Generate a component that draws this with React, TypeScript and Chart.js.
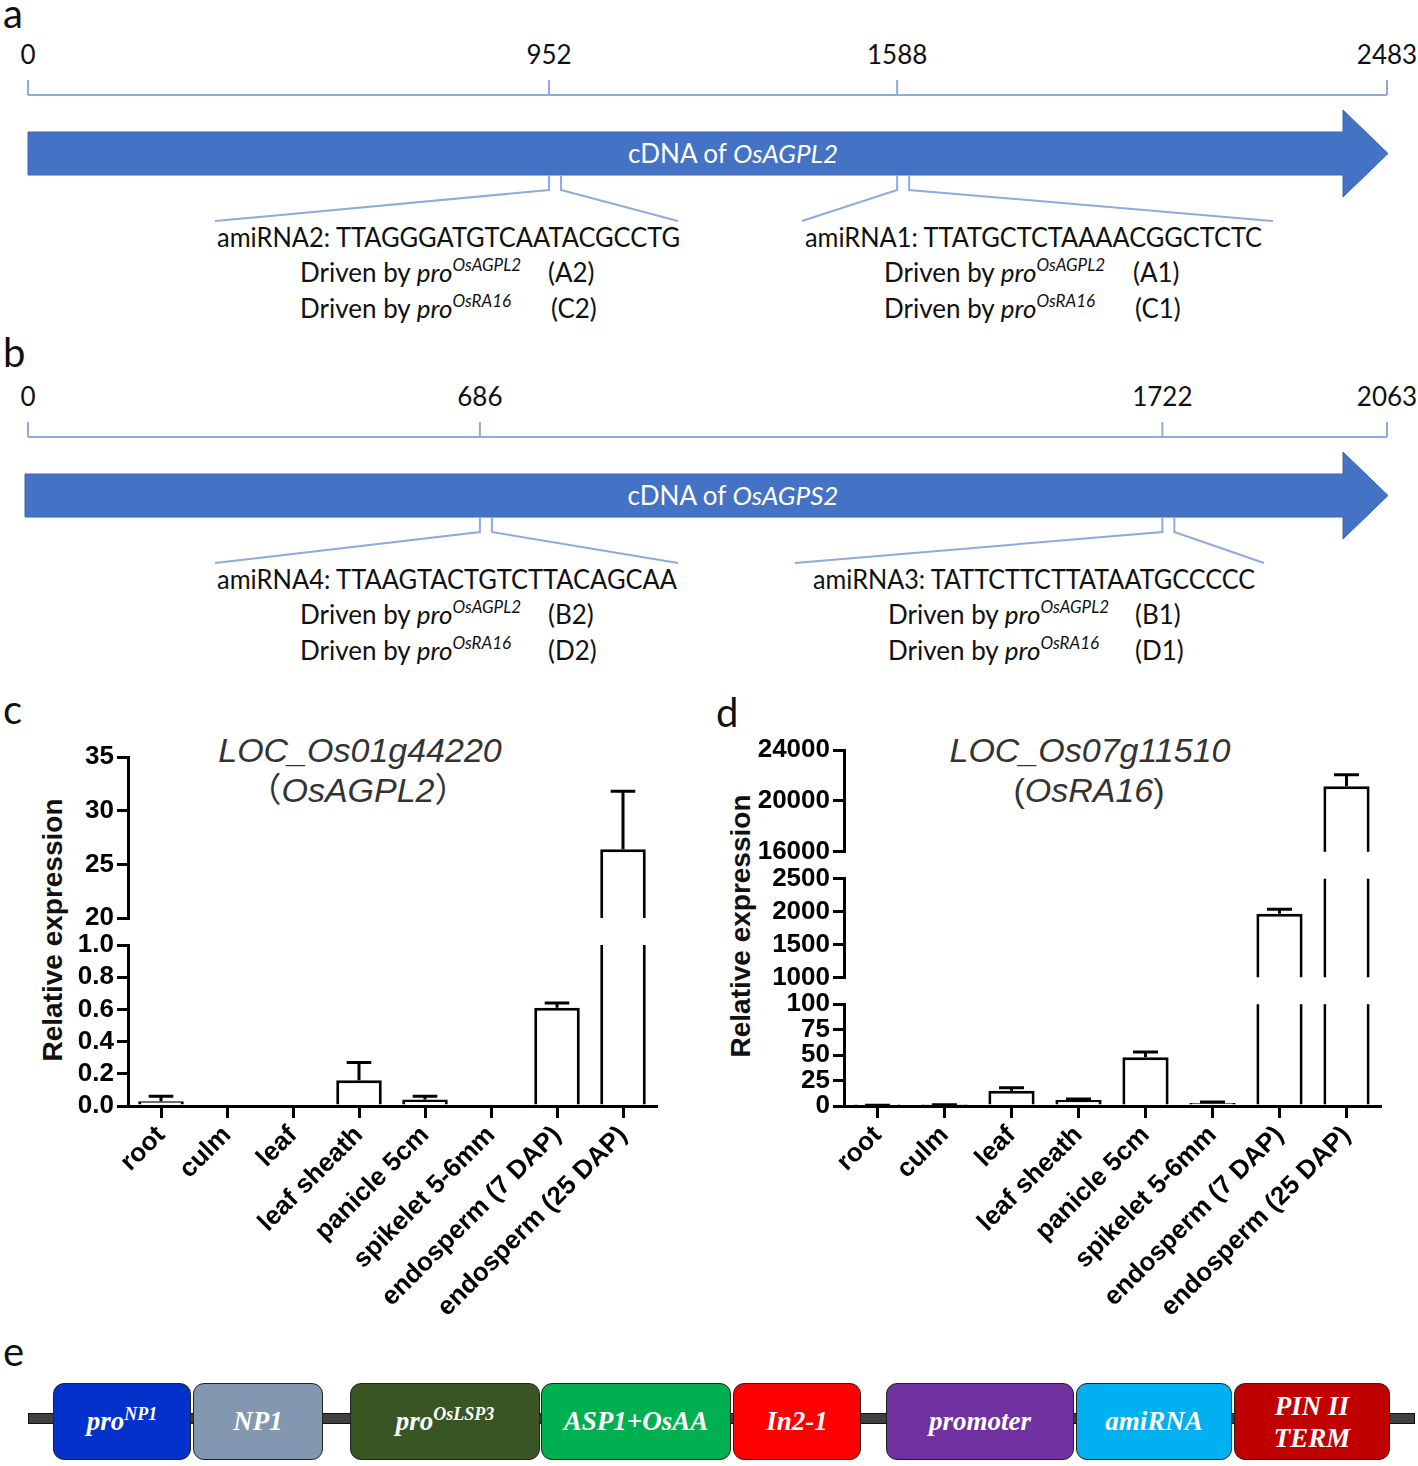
import React, { useEffect, useRef } from "react";
import { Chart, registerables } from "chart.js";

Chart.register(...registerables);

// ---------------- DATA ----------------
// panel a / b : cDNA rulers
const agpl2Length = 2483;
const agpl2Ticks = [0, 952, 1588, 2483];
const agpl2Sites = [952, 1588];
const agps2Length = 2063;
const agps2Ticks = [0, 686, 1722, 2063];
const agps2Sites = [686, 1722];

const agpl2Amirnas = ["amiRNA2: TTAGGGATGTCAATACGCCTG", "amiRNA1: TTATGCTCTAAAACGGCTCTC"];
const agpl2Tags = [["(A2)", "(C2)"], ["(A1)", "(C1)"]];
const agps2Amirnas = ["amiRNA4: TTAAGTACTGTCTTACAGCAA", "amiRNA3: TATTCTTCTTATAATGCCCCC"];
const agps2Tags = [["(B2)", "(D2)"], ["(B1)", "(D1)"]];
const promoterNames = ["OsAGPL2", "OsRA16"];

// panel c / d : relative expression
const tissues = [
  "root",
  "culm",
  "leaf",
  "leaf sheath",
  "panicle 5cm",
  "spikelet 5-6mm",
  "endosperm (7 DAP)",
  "endosperm (25 DAP)",
];
const agpl2Mean = [0.03, 0, 0, 0.16, 0.04, 0, 0.61, 26.4];
const agpl2Err = [0.03, 0, 0, 0.11, 0.02, 0, 0.03, 5.4];
const agpl2SegMin = [20, 0];
const agpl2SegMax = [35, 1];
const agpl2SegStep = [5, 0.2];
const agpl2SegDecimals = [0, 1];

const ra16Mean = [0.4, 1, 15, 6, 48, 3, 1965, 21150];
const ra16Err = [0.3, 0.3, 3, 1, 5, 1, 70, 900];
const ra16SegMin = [16000, 1000, 0];
const ra16SegMax = [24000, 2500, 100];
const ra16SegStep = [4000, 500, 25];
const ra16SegDecimals = [0, 0, 0];

// panel e : construct
const constructParts = ["pro|NP1", "NP1", "pro|OsLSP3", "ASP1+OsAA", "In2-1", "promoter", "amiRNA", "PIN II/TERM"];
const constructColors = ["#0331C9", "#8497B0", "#3A5524", "#00B050", "#FF0000", "#7030A0", "#00B0F0", "#C00000"];

// ---------------- LAYOUT ----------------
const LATO = "Lato, 'Open Sans', sans-serif";
const ARIAL = "'Liberation Sans', Arial, sans-serif";
const TIMES = "'Liberation Serif', 'Times New Roman', serif";
const RULER_BLUE = "#8FAADC";
const ARROW_BLUE = "#4472C4";

const errorBarPlugin = {
  id: "errorBars",
  afterDatasetsDraw(chart: any, _args: any, opts: any) {
    const { means, errs, ids } = opts;
    const meta = chart.getDatasetMeta(0);
    const ctx = chart.ctx;
    ctx.save();
    ctx.strokeStyle = "#000";
    ctx.lineWidth = 3;
    means.forEach((m: number, i: number) => {
      const e = errs[i];
      if (!e) return;
      const id = ids.find((k: string) => {
        const s = chart.scales[k];
        return m >= s.min && m <= s.max;
      });
      if (!id) return;
      const sc = chart.scales[id];
      const el: any = meta.data[i];
      const x = el.x;
      const w = el.width;
      const y0 = sc.getPixelForValue(m);
      const y1 = sc.getPixelForValue(m + e);
      ctx.beginPath();
      ctx.moveTo(x, y0);
      ctx.lineTo(x, y1);
      ctx.moveTo(x - w * 0.27, y1);
      ctx.lineTo(x + w * 0.27, y1);
      ctx.stroke();
    });
    ctx.restore();
  },
};

type BrokenProps = {
  left: number;
  top: number;
  width: number;
  height: number;
  area: { left: number; right: number; top: number; bottom: number };
  yAxisWidth: number;
  means: number[];
  errs: number[];
  segMin: number[];
  segMax: number[];
  segStep: number[];
  segDecimals: number[];
  segHeights: number[];
  gapHeight: number;
};

function BrokenBarChart(p: BrokenProps) {
  const ref = useRef<HTMLCanvasElement>(null);
  useEffect(() => {
    if (!ref.current) return;
    const tickFont = { family: ARIAL, size: 26, weight: "bold" as const };
    const scales: any = {
      x: {
        type: "category",
        position: "bottom",
        offset: true,
        grid: {
          display: true,
          drawOnChartArea: false,
          offset: false,
          color: "#000",
          lineWidth: 3,
          tickLength: 12,
        },
        border: { display: true, color: "#000", width: 3 },
        ticks: {
          font: tickFont,
          color: "#000",
          minRotation: 45,
          maxRotation: 45,
          autoSkip: false,
          padding: 2,
        },
        afterFit: (s: any) => {
          s.height = p.height - p.area.bottom;
        },
      },
    };
    const ids: string[] = [];
    const datasets: any[] = [];
    const n = p.segMin.length;
    for (let i = 0; i < n; i++) {
      const id = "y" + i;
      ids.push(id);
      const dec = p.segDecimals[i];
      scales[id] = {
        type: "linear",
        position: "left",
        stack: "broken",
        stackWeight: p.segHeights[i],
        weight: 100 - 2 * i,
        min: p.segMin[i],
        max: p.segMax[i],
        offset: false,
        ticks: {
          stepSize: p.segStep[i],
          font: tickFont,
          color: "#000",
          padding: 3,
          autoSkip: false,
          callback: (v: any) => Number(v).toFixed(dec),
        },
        grid: {
          display: true,
          drawOnChartArea: false,
          drawTicks: true,
          tickLength: 11,
          color: "#000",
          lineWidth: 3,
        },
        border: { display: true, color: "#000", width: 3 },
        afterFit: (s: any) => {
          s.width = p.yAxisWidth;
        },
      };
      if (i < n - 1) {
        scales["gap" + i] = {
          type: "linear",
          position: "left",
          stack: "broken",
          stackWeight: p.gapHeight,
          weight: 100 - 2 * i - 1,
          min: 0,
          max: 1,
          display: true,
          grid: { display: false },
          border: { display: false },
          ticks: { display: false },
          afterFit: (s: any) => {
            s.width = p.yAxisWidth;
          },
        };
      }
      datasets.push({
        data: p.means,
        xAxisID: "x",
        yAxisID: id,
        backgroundColor: "#fff",
        borderColor: "#000",
        borderWidth: 3,
        borderSkipped: "start",
        barPercentage: 0.69,
        categoryPercentage: 1,
        grouped: false,
        clip: 0,
      });
    }
    const chart = new Chart(ref.current, {
      type: "bar",
      data: { labels: tissues, datasets },
      options: {
        responsive: false,
        animation: false,
        devicePixelRatio: 1,
        layout: {
          padding: {
            left: p.area.left - p.yAxisWidth,
            right: p.width - p.area.right,
            top: p.area.top,
            bottom: 0,
          },
        },
        plugins: {
          legend: { display: false },
          tooltip: { enabled: false },
          title: { display: false },
          errorBars: { means: p.means, errs: p.errs, ids },
        } as any,
        scales,
      },
      plugins: [errorBarPlugin],
    });
    return () => chart.destroy();
  }, []);
  return (
    <canvas
      ref={ref}
      width={p.width}
      height={p.height}
      style={{ position: "absolute", left: p.left, top: p.top, width: p.width, height: p.height }}
    />
  );
}

function xOf(bp: number, len: number) {
  return 28 + (bp / len) * 1359;
}

function DrivenLine(props: { x: number; y: number; sup: string; tag: string; tagX: number }) {
  return (
    <g>
      <text x={props.x} y={props.y} fontSize={26} fontFamily={LATO} fill="#111">
        <tspan>Driven by </tspan>
        <tspan fontStyle="italic">pro</tspan>
        <tspan fontStyle="italic" fontSize={17} dy={-11}>
          {props.sup}
        </tspan>
      </text>
      <text x={props.tagX} y={props.y} fontSize={26} fontFamily={LATO} fill="#111">
        {props.tag}
      </text>
    </g>
  );
}

type GeneDiagramProps = {
  y0: number; // panel offset
  len: number;
  ticks: number[];
  sites: number[];
  gene: string;
  amirnas: string[];
  tags: string[][];
  bodyLeft: number;
  textSpans: number[][]; // [start,end] of amiRNA line
  drivenX: number[];
  tagX: number[][];
  fanEnds: number[][];
};

function GeneDiagram(g: GeneDiagramProps) {
  const rulerY = g.y0 + 95;
  const bodyTop = g.y0 + 132;
  const bodyBot = g.y0 + 175;
  const headTop = g.y0 + 110;
  const headBot = g.y0 + 197;
  const mid = (bodyTop + bodyBot) / 2;
  const fanTopY = bodyBot + 15;
  const fanBotY = g.y0 + 221;
  return (
    <g>
      <line x1={28} y1={rulerY} x2={1387} y2={rulerY} stroke={RULER_BLUE} strokeWidth={2} />
      {g.ticks.map((t, i) => {
        const x = xOf(t, g.len);
        return (
          <g key={i}>
            <line x1={x} y1={rulerY - 15} x2={x} y2={rulerY} stroke={RULER_BLUE} strokeWidth={2} />
            <text x={x} y={g.y0 + 64} fontSize={26} fontFamily={LATO} textAnchor="middle" fill="#111">
              {t}
            </text>
          </g>
        );
      })}
      <polygon
        points={`${g.bodyLeft},${bodyTop} 1343,${bodyTop} 1343,${headTop} 1388,${mid} 1343,${headBot} 1343,${bodyBot} ${g.bodyLeft},${bodyBot}`}
        fill={ARROW_BLUE}
        stroke="#3B64B0"
        strokeWidth={1}
      />
      <text x={733} y={mid + 9} fontSize={26} fontFamily={LATO} textAnchor="middle" fill="#fff">
        <tspan>cDNA of </tspan>
        <tspan fontStyle="italic">{g.gene}</tspan>
      </text>
      {g.sites.map((s, i) => {
        const xa = xOf(s, g.len);
        const xb = xa + 12;
        return (
          <g key={i}>
            <polyline
              points={`${xa},${bodyBot} ${xa},${fanTopY} ${g.fanEnds[i][0]},${fanBotY}`}
              fill="none"
              stroke={RULER_BLUE}
              strokeWidth={2}
            />
            <polyline
              points={`${xb},${bodyBot} ${xb},${fanTopY} ${g.fanEnds[i][1]},${fanBotY}`}
              fill="none"
              stroke={RULER_BLUE}
              strokeWidth={2}
            />
            <text
              x={g.textSpans[i][0]}
              y={g.y0 + 247}
              fontSize={26}
              fontFamily={LATO}
              fill="#111"
              textLength={g.textSpans[i][1] - g.textSpans[i][0]}
              lengthAdjust="spacingAndGlyphs"
            >
              {g.amirnas[i]}
            </text>
            <DrivenLine x={g.drivenX[i]} y={g.y0 + 282} sup={promoterNames[0]} tag={g.tags[i][0]} tagX={g.tagX[i][0]} />
            <DrivenLine x={g.drivenX[i]} y={g.y0 + 318} sup={promoterNames[1]} tag={g.tags[i][1]} tagX={g.tagX[i][1]} />
          </g>
        );
      })}
    </g>
  );
}

const boxX = [
  [53, 191],
  [193, 323],
  [350, 540],
  [541, 731],
  [733, 861],
  [886, 1074],
  [1076, 1232],
  [1234, 1390],
];

function Construct() {
  return (
    <div style={{ position: "absolute", left: 0, top: 0 }}>
      <div
        style={{
          position: "absolute",
          left: 28,
          top: 1413,
          width: 1385,
          height: 9,
          background: "#404040",
          border: "1px solid #111",
        }}
      />
      {constructParts.map((name, i) => {
        const [x0, x1] = boxX[i];
        let content: any = name;
        if (name.includes("|")) {
          const [a, b] = name.split("|");
          content = (
            <span>
              {a}
              <sup style={{ fontSize: 18, verticalAlign: "0.55em", lineHeight: 0 }}>{b}</sup>
            </span>
          );
        } else if (name.includes("/")) {
          const [a, b] = name.split("/");
          content = (
            <span style={{ lineHeight: "32px" }}>
              {a}
              <br />
              {b}
            </span>
          );
        }
        return (
          <div
            key={i}
            style={{
              position: "absolute",
              left: x0,
              top: 1383,
              width: x1 - x0,
              height: 77,
              boxSizing: "border-box",
              background: constructColors[i],
              border: "1.5px solid #222",
              borderRadius: 11,
              display: "flex",
              alignItems: "center",
              justifyContent: "center",
              color: "#fff",
              fontFamily: TIMES,
              fontStyle: "italic",
              fontWeight: "bold",
              fontSize: 27,
              textAlign: "center",
            }}
          >
            {content}
          </div>
        );
      })}
    </div>
  );
}

export default function App() {
  return (
    <div style={{ position: "relative", width: 1418, height: 1466, background: "#fff", overflow: "hidden" }}>
      <style>{`body{margin:0;}`}</style>
      <svg width={1418} height={1466} style={{ position: "absolute", left: 0, top: 0 }}>
        <text x={3} y={28} fontSize={40} fontFamily={LATO} fill="#111">a</text>
        <text x={3} y={367} fontSize={40} fontFamily={LATO} fill="#111">b</text>
        <text x={3} y={724} fontSize={40} fontFamily={LATO} fill="#111">c</text>
        <text x={716} y={727} fontSize={40} fontFamily={LATO} fill="#111">d</text>
        <text x={3} y={1366} fontSize={40} fontFamily={LATO} fill="#111">e</text>
        <GeneDiagram
          y0={0}
          len={agpl2Length}
          ticks={agpl2Ticks}
          sites={agpl2Sites}
          gene="OsAGPL2"
          amirnas={agpl2Amirnas}
          tags={agpl2Tags}
          bodyLeft={28}
          textSpans={[
            [217, 680],
            [805, 1262],
          ]}
          drivenX={[300, 884]}
          tagX={[
            [548, 551],
            [1133, 1135],
          ]}
          fanEnds={[
            [215, 678],
            [802, 1273],
          ]}
        />
        <GeneDiagram
          y0={342}
          len={agps2Length}
          ticks={agps2Ticks}
          sites={agps2Sites}
          gene="OsAGPS2"
          amirnas={agps2Amirnas}
          tags={agps2Tags}
          bodyLeft={25}
          textSpans={[
            [217, 677],
            [813, 1255],
          ]}
          drivenX={[300, 888]}
          tagX={[
            [548, 548],
            [1135, 1135],
          ]}
          fanEnds={[
            [215, 678],
            [795, 1264],
          ]}
        />
        {/* chart titles */}
        <text x={360} y={762} fontSize={34} fontFamily={ARIAL} fontStyle="italic" fill="#333" textAnchor="middle">
          LOC_Os01g44220
        </text>
        <text x={358} y={802} fontSize={34} fontFamily={`${ARIAL}, 'Noto Sans CJK SC'`} fill="#333" textAnchor="middle">
          <tspan>（</tspan>
          <tspan fontStyle="italic">OsAGPL2</tspan>
          <tspan>）</tspan>
        </text>
        <text x={1090} y={762} fontSize={34} fontFamily={ARIAL} fontStyle="italic" fill="#333" textAnchor="middle">
          LOC_Os07g11510
        </text>
        <text x={1089} y={802} fontSize={34} fontFamily={ARIAL} fill="#333" textAnchor="middle">
          <tspan>(</tspan>
          <tspan fontStyle="italic">OsRA16</tspan>
          <tspan>)</tspan>
        </text>
        <text
          transform="translate(62,930) rotate(-90)"
          fontSize={28}
          fontWeight="bold"
          fontFamily={ARIAL}
          fill="#111"
          textAnchor="middle"
        >
          Relative expression
        </text>
        <text
          transform="translate(750,926) rotate(-90)"
          fontSize={28}
          fontWeight="bold"
          fontFamily={ARIAL}
          fill="#111"
          textAnchor="middle"
        >
          Relative expression
        </text>
      </svg>
      <BrokenBarChart
        left={0}
        top={727}
        width={700}
        height={600}
        area={{ left: 128, right: 656, top: 757 - 727, bottom: 1106 - 727 }}
        yAxisWidth={100}
        means={agpl2Mean}
        errs={agpl2Err}
        segMin={agpl2SegMin}
        segMax={agpl2SegMax}
        segStep={agpl2SegStep}
        segDecimals={agpl2SegDecimals}
        segHeights={[161, 161]}
        gapHeight={27}
      />
      <BrokenBarChart
        left={700}
        top={720}
        width={718}
        height={607}
        area={{ left: 844 - 700, right: 1380 - 700, top: 750 - 720, bottom: 1106 - 720 }}
        yAxisWidth={110}
        means={ra16Mean}
        errs={ra16Err}
        segMin={ra16SegMin}
        segMax={ra16SegMax}
        segStep={ra16SegStep}
        segDecimals={ra16SegDecimals}
        segHeights={[102, 99, 102]}
        gapHeight={27}
      />
      <Construct />
    </div>
  );
}
